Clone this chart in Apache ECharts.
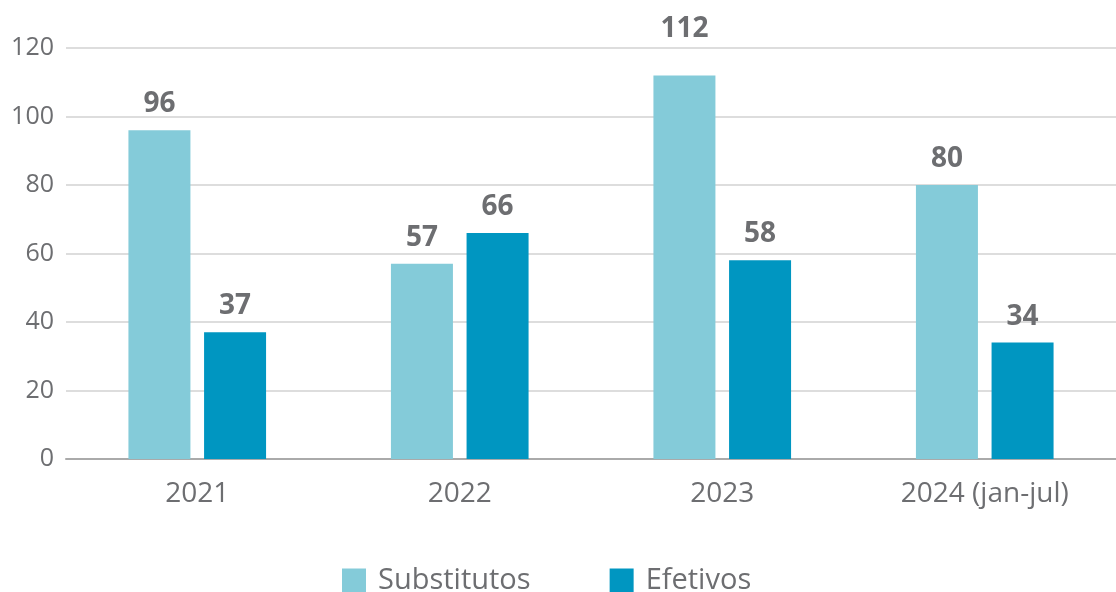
<!DOCTYPE html>
<html><head><meta charset="utf-8">
<script src="https://cdn.jsdelivr.net/npm/echarts@6/dist/echarts.min.js"></script>
<style>html,body{margin:0;padding:0;background:#fff}#c{width:1116px;height:592px}</style>
</head><body><div id="c"></div>
<script>
const categories = ['2021', '2022', '2023', '2024 (jan-jul)'];
const substitutos = [96, 57, 112, 80];
const efetivos = [37, 66, 58, 34];
const yTicks = [0, 20, 40, 60, 80, 100, 120];

const chart = echarts.init(document.getElementById('c'));
const font = '"Open Sans", "Noto Sans", sans-serif';
const labelStyle = {show: true, position: 'top', distance: 12, color: '#6d6e71', fontSize: 28, fontWeight: 'bold', fontFamily: font};
const subData = substitutos.map((v, i) => i === 2 ? {value: v, label: {distance: 32}} : v);
chart.setOption({
  animation: false,
  textStyle: {fontFamily: font},
  grid: {left: 66, right: 0, top: 48, bottom: 133},
  legend: {
    bottom: -8, left: 337, itemWidth: 24, itemHeight: 24, itemGap: 79,
    icon: 'rect',
    textStyle: {fontSize: 29, color: '#6d6e71', fontFamily: font, padding: [0, 0, 0, 7]},
    data: ['Substitutos', 'Efetivos']
  },
  xAxis: {
    type: 'category', data: categories,
    axisLine: {lineStyle: {color: '#aaaaaa', width: 2}},
    axisTick: {show: false},
    axisLabel: {color: '#6d6e71', fontSize: 28, margin: 21, fontFamily: font}
  },
  yAxis: {
    type: 'value', min: 0, max: 120, interval: 20,
    axisLabel: {color: '#6d6e71', fontSize: 25, margin: 12, fontFamily: font,
      formatter: v => yTicks.includes(v) ? String(v) : ''},
    splitLine: {lineStyle: {color: '#dddddd', width: 2}},
    axisLine: {show: false}, axisTick: {show: false}
  },
  series: [
    {name: 'Substitutos', type: 'bar', data: subData, barWidth: 62, barGap: '22%',
     itemStyle: {color: '#84cbd9'}, label: labelStyle},
    {name: 'Efetivos', type: 'bar', data: efetivos, barWidth: 62, barGap: '22%',
     itemStyle: {color: '#0096c1'}, label: labelStyle}
  ]
});
</script></body></html>
